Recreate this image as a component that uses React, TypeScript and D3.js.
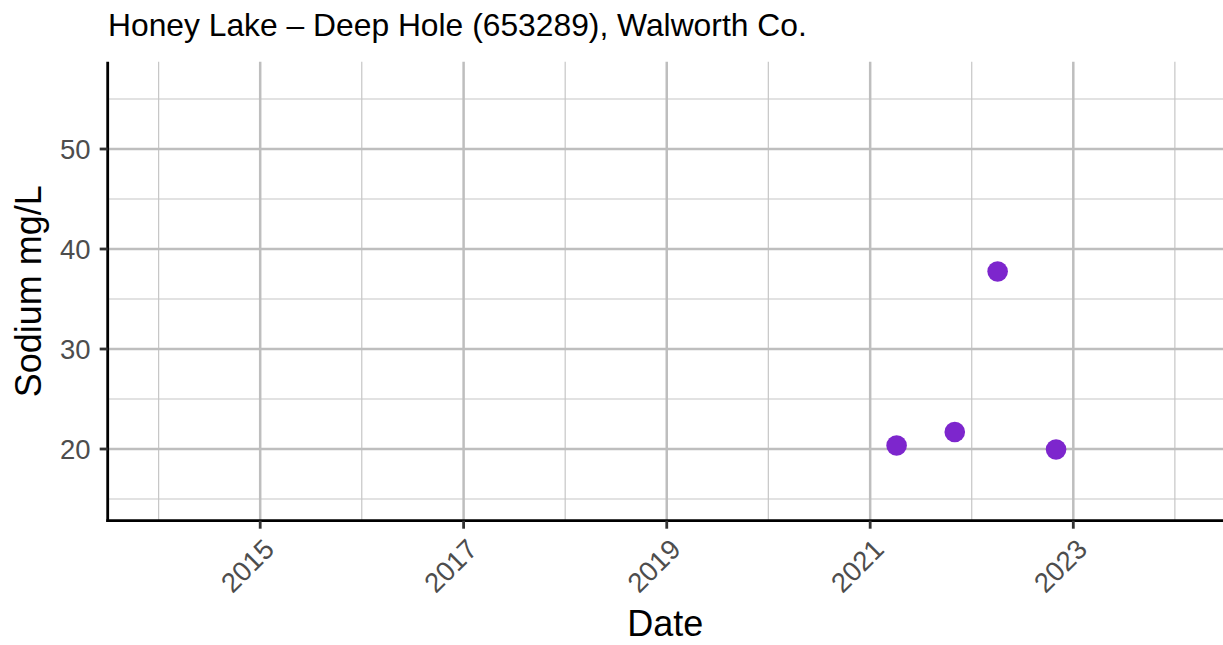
import React from "react";
import * as d3 from "d3";

const sampleDates = ["2021-04-06", "2021-11-01", "2022-04-04", "2022-10-31"];
const sodiumValues = [20.35, 21.7, 37.75, 19.95];
const yMajorTicks = [20, 30, 40, 50];
const yMinorTicks = [15, 25, 35, 45, 55];
const xMajorYears = [2015, 2017, 2019, 2021, 2023];
const xMinorYears = [2014, 2016, 2018, 2020, 2022, 2024];
const titleText = "Honey Lake – Deep Hole (653289), Walworth Co.";
const xLabel = "Date";
const yLabel = "Sodium mg/L";

const W = 1223;
const H = 645;
const FONT = "'Liberation Sans', Arial, Helvetica, sans-serif";

export default function App() {
  const panel = { left: 107.7, right: 1225.8, top: 61.7, bottom: 520.7 };
  const x = d3
    .scaleTime()
    .domain([new Date(2013, 6, 2), new Date(2024, 6, 2)])
    .range([panel.left, panel.right]);
  const y = d3.scaleLinear().domain([12.83, 58.73]).range([panel.bottom, panel.top]);
  const parse = d3.timeParse("%Y-%m-%d");
  const pts = sampleDates.map((d, i) => ({ date: parse(d) as Date, v: sodiumValues[i] }));
  const yr = (v: number) => x(new Date(v, 0, 1));

  return (
    <svg width={W} height={H} style={{ position: "absolute", left: 0, top: 0, background: "#fff" }} fontFamily={FONT}>
      <rect x={0} y={0} width={W} height={H} fill="#fff" />
      {/* minor grid */}
      {yMinorTicks.map((t) => (
        <line key={"ym" + t} x1={panel.left} x2={W} y1={y(t)} y2={y(t)} stroke="#C6C6C6" strokeWidth={1.2} />
      ))}
      {xMinorYears.map((t) => (
        <line key={"xm" + t} x1={yr(t)} x2={yr(t)} y1={panel.top} y2={panel.bottom} stroke="#C6C6C6" strokeWidth={1.2} />
      ))}
      {/* major grid */}
      {yMajorTicks.map((t) => (
        <line key={"yM" + t} x1={panel.left} x2={W} y1={y(t)} y2={y(t)} stroke="#BEBEBE" strokeWidth={2.5} />
      ))}
      {xMajorYears.map((t) => (
        <line key={"xM" + t} x1={yr(t)} x2={yr(t)} y1={panel.top} y2={panel.bottom} stroke="#BEBEBE" strokeWidth={2.5} />
      ))}
      {/* points */}
      {pts.map((p, i) => (
        <circle key={i} cx={x(p.date)} cy={y(p.v)} r={10.3} fill="#7D26CD" />
      ))}
      {/* axes */}
      <line x1={panel.left} x2={panel.left} y1={panel.top} y2={panel.bottom + 1.4} stroke="#000" strokeWidth={2.8} />
      <line x1={panel.left - 1.4} x2={W} y1={panel.bottom} y2={panel.bottom} stroke="#000" strokeWidth={2.8} />
      {yMajorTicks.map((t) => (
        <g key={"yt" + t}>
          <line x1={panel.left - 8} x2={panel.left} y1={y(t)} y2={y(t)} stroke="#333" strokeWidth={2.8} />
          <text x={90.5} y={y(t)} dy="0.36em" textAnchor="end" fontSize={27.5} fill="#4D4D4D">
            {t}
          </text>
        </g>
      ))}
      {xMajorYears.map((t) => (
        <g key={"xt" + t}>
          <line x1={yr(t)} x2={yr(t)} y1={panel.bottom} y2={panel.bottom + 8} stroke="#333" strokeWidth={2.8} />
          <text
            transform={`translate(${yr(t) + 1.5},${537}) rotate(-45)`}
            dy="0.72em"
            textAnchor="end"
            fontSize={27.5}
            fill="#4D4D4D"
          >
            {t}
          </text>
        </g>
      ))}
      {/* labels */}
      <text x={(panel.left + W) / 2} y={636} textAnchor="middle" fontSize={36} fill="#000">
        {xLabel}
      </text>
      <text
        transform={`translate(40.5,${(panel.top + panel.bottom) / 2}) rotate(-90)`}
        textAnchor="middle"
        fontSize={36}
        fill="#000"
      >
        {yLabel}
      </text>
      <text x={108} y={35.5} fontSize={31.8} fill="#000">
        {titleText}
      </text>
    </svg>
  );
}
